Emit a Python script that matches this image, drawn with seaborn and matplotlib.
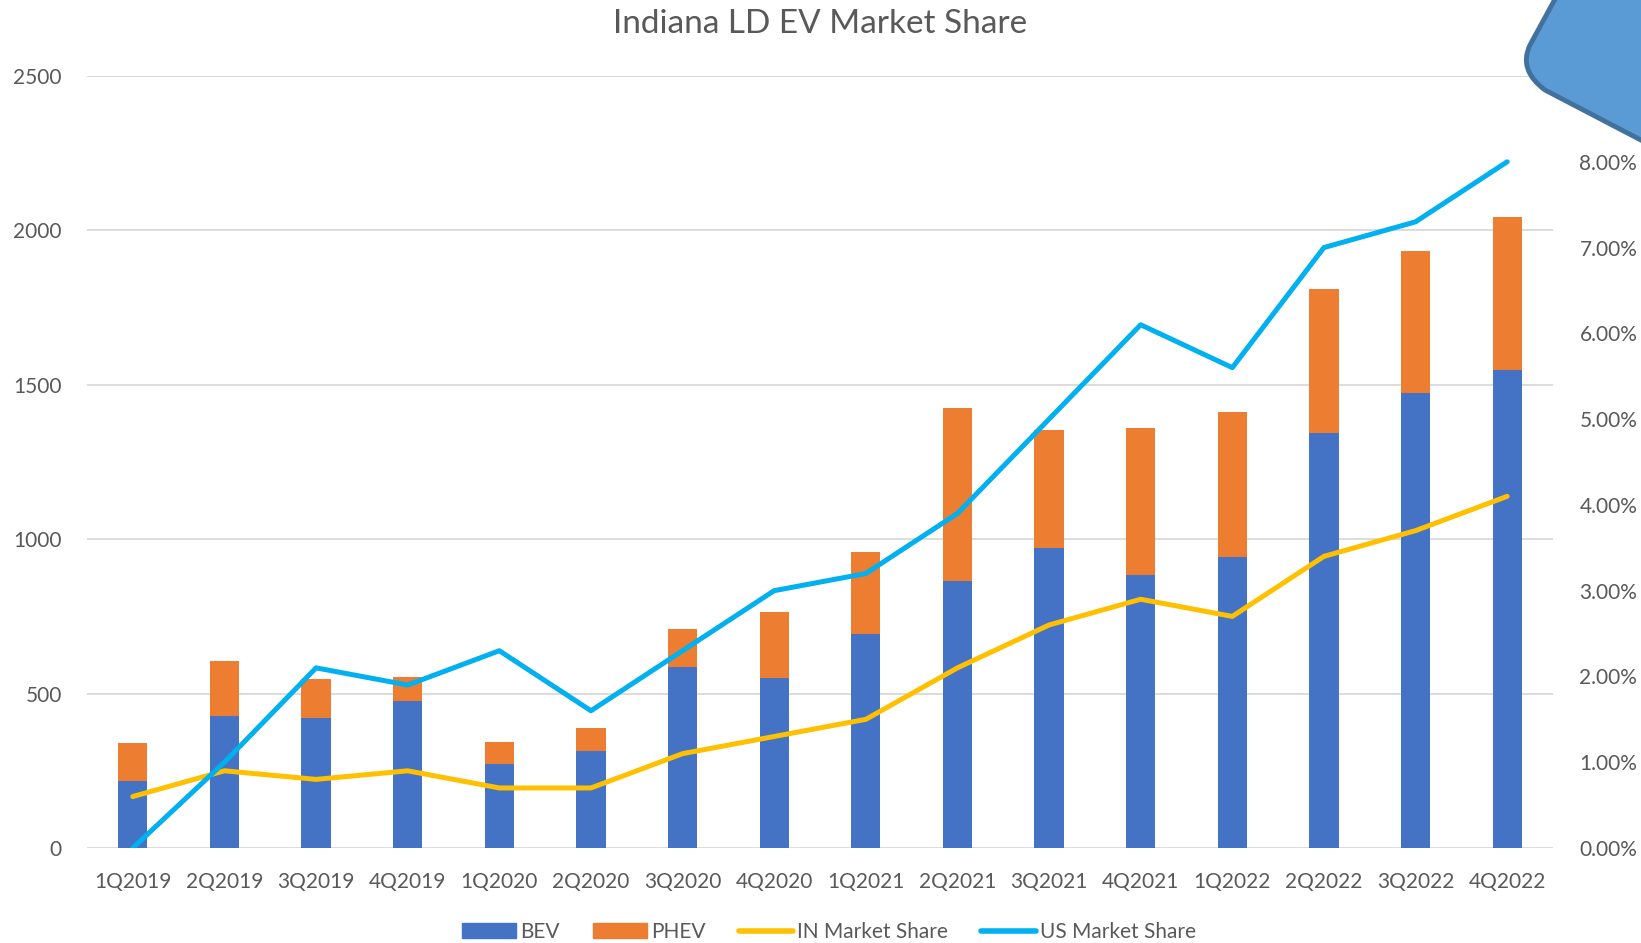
import matplotlib
matplotlib.use("Agg")
import matplotlib.pyplot as plt
import numpy as np
import pandas as pd
import seaborn as sns
from matplotlib.lines import Line2D
from matplotlib.patches import Patch, PathPatch
from matplotlib.path import Path
from matplotlib.ticker import FuncFormatter

quarters = [
    "1Q2019", "2Q2019", "3Q2019", "4Q2019",
    "1Q2020", "2Q2020", "3Q2020", "4Q2020",
    "1Q2021", "2Q2021", "3Q2021", "4Q2021",
    "1Q2022", "2Q2022", "3Q2022", "4Q2022",
]
bev = [217, 427, 421, 475, 271, 315, 587, 550, 692, 865, 970, 885, 943, 1343, 1472, 1547]
phev = [122, 177, 125, 78, 72, 72, 122, 213, 265, 560, 383, 475, 468, 468, 462, 498]
in_share = [0.6, 0.9, 0.8, 0.9, 0.7, 0.7, 1.1, 1.3, 1.5, 2.1, 2.6, 2.9, 2.7, 3.4, 3.7, 4.1]
us_share = [0.0, 1.0, 2.1, 1.9, 2.3, 1.6, 2.3, 3.0, 3.2, 3.9, 5.0, 6.1, 5.6, 7.0, 7.3, 8.0]

df = pd.DataFrame({"quarter": quarters, "bev": bev, "phev": phev,
                   "in_share": in_share, "us_share": us_share})
df["total"] = df["bev"] + df["phev"]
df["pos"] = np.arange(len(df))

BLUE, ORANGE, GOLD, CYAN = "#4472C4", "#ED7D31", "#FFC000", "#00B0F0"
GREY = "#595959"

sns.set_theme(style="white")
plt.rcParams["font.family"] = ["Lato", "DejaVu Sans"]

W, H = 1641, 943
fig = plt.figure(figsize=(W / 100, H / 100), dpi=100)
ax = fig.add_axes([87 / W, 1 - 848 / H, (1553 - 87) / W, (848 - 76) / H])

sns.barplot(data=df, x="quarter", y="total", color=ORANGE, width=0.32,
            saturation=1, linewidth=0, ax=ax, zorder=2)
sns.barplot(data=df, x="quarter", y="bev", color=BLUE, width=0.32,
            saturation=1, linewidth=0, ax=ax, zorder=3)
ax.set_ylim(0, 2500)
ax.set_xlim(-0.5, len(df) - 0.5)
ax.set_yticks(np.arange(0, 2501, 500))
ax.yaxis.grid(True, color="#D9D9D9", lw=1.3, zorder=0)
ax.set_axisbelow(True)
ax.set_xlabel("")
ax.set_ylabel("")
for s in ax.spines.values():
    s.set_visible(False)
ax.tick_params(axis="both", length=0, labelsize=15, labelcolor=GREY)
ax.tick_params(axis="y", pad=18)
ax.tick_params(axis="x", pad=17)

ax2 = ax.twinx()
sns.lineplot(data=df, x="pos", y="in_share", color=GOLD, lw=3.6, ax=ax2,
             solid_capstyle="round")
sns.lineplot(data=df, x="pos", y="us_share", color=CYAN, lw=3.6, ax=ax2,
             solid_capstyle="round")
ax2.set_ylim(0, 9)
ax2.set_yticks(np.arange(0, 9, 1))
ax2.yaxis.set_major_formatter(FuncFormatter(lambda v, _: f"{v:.2f}%"))
ax2.set_xlabel("")
ax2.set_ylabel("")
ax2.grid(False)
for s in ax2.spines.values():
    s.set_visible(False)
ax2.tick_params(axis="y", length=0, labelsize=15, labelcolor=GREY, pad=19)

fig.text(0.5, 1 - 24 / H, "Indiana LD EV Market Share", ha="center", va="center",
         fontsize=24, color=GREY)

handles = [
    Patch(color=BLUE, label="BEV"),
    Patch(color=ORANGE, label="PHEV"),
    Line2D([], [], color=GOLD, lw=4, label="IN Market Share"),
    Line2D([], [], color=CYAN, lw=4, label="US Market Share"),
]
fig.legend(handles=handles, loc="center", bbox_to_anchor=(0.505, 1 - 932 / H),
           ncol=4, frameon=False, fontsize=15, labelcolor=GREY,
           handlelength=2.6, handleheight=0.7, handletextpad=0.2, columnspacing=1.6)

# decorative shape overlapping the top-right corner
pts = [(1560, -10), (1530, 45), (1518, 70), (1545, 90), (1660, 150), (1660, -10), (1560, -10)]
codes = [Path.MOVETO, Path.LINETO, Path.CURVE3, Path.CURVE3, Path.LINETO, Path.LINETO, Path.CLOSEPOLY]
verts = [(x / W, 1 - y / H) for x, y in pts]
fig.patches.append(PathPatch(Path(verts, codes), transform=fig.transFigure,
                             facecolor="#5B9BD5", edgecolor="#41719C", lw=3.5,
                             zorder=10))

fig.savefig("out.png", dpi=100)
